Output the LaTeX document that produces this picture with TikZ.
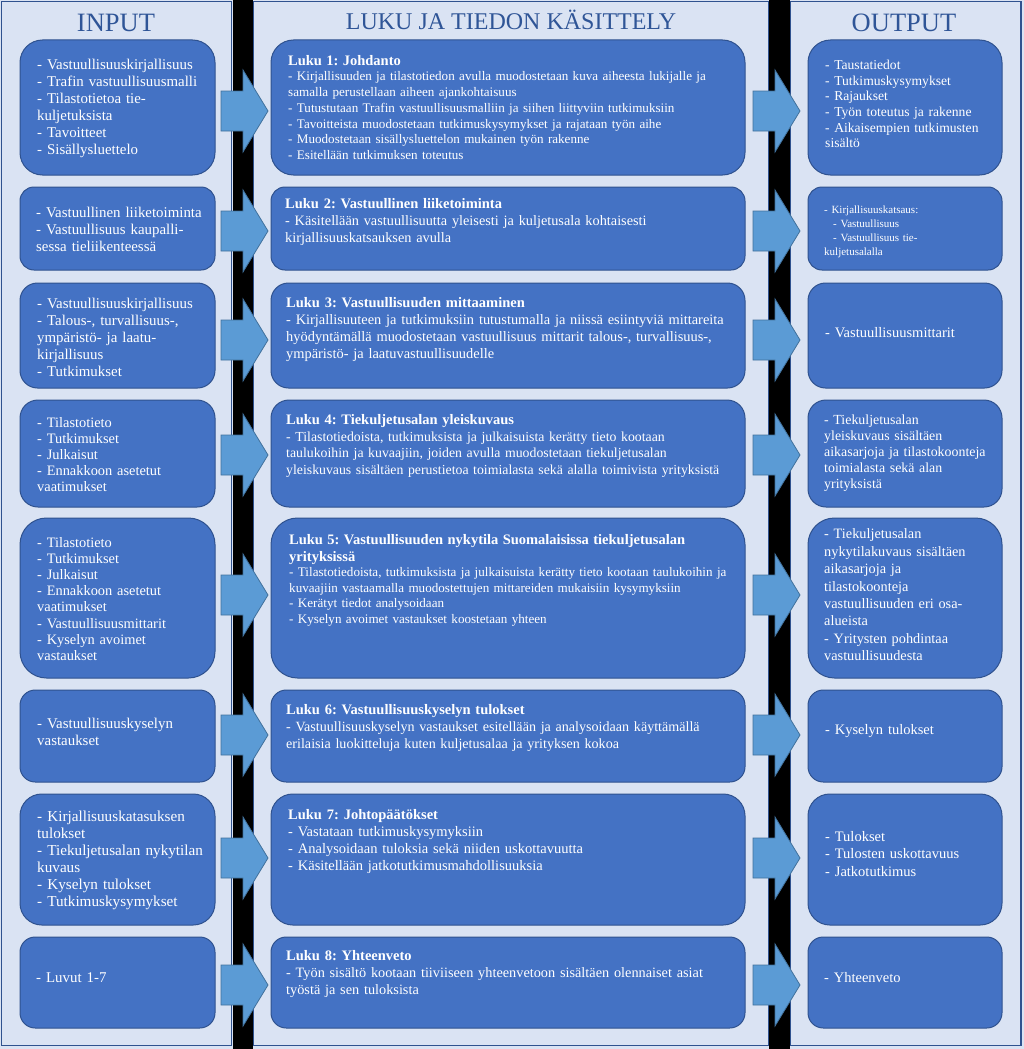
\documentclass[tikz,border=0pt]{standalone}
\usepackage{fontspec}
\setmainfont{Liberation Serif}
\frenchspacing
\definecolor{panelbg}{HTML}{DAE3F3}
\definecolor{panelline}{HTML}{2F528F}
\definecolor{boxfill}{HTML}{4472C4}
\definecolor{boxline}{HTML}{2F528F}
\definecolor{arrfill}{HTML}{5B9BD5}
\definecolor{arrline}{HTML}{41719C}
\definecolor{titlecol}{HTML}{2F5597}
\newcommand\myfs[2]{\fontsize{#1}{#2}\selectfont}
\newcommand\myhd[1]{{\fontsize{14.5}{17}\selectfont\bfseries #1\par}}
\tikzset{
  panel/.style={fill=panelbg, draw=panelline, line width=1.5pt},
  blackbar/.style={fill=black, draw=none},
  box/.style={fill=boxfill, draw=boxline, line width=1pt, inner sep=0pt},
  ltxt/.style={text=white, inner sep=0pt, align=left, text width=185pt, anchor=west},
  mtxt/.style={text=white, inner sep=0pt, align=left, text width=465pt, anchor=north west},
  ttl/.style={text=titlecol, inner sep=0pt, anchor=base},
  arr/.pic={\draw[fill=arrfill, draw=arrline, line width=0.8pt] (0,-20) -- (22,-20) -- (22,-41) -- (47,0) -- (22,41) -- (22,20) -- (0,20) -- cycle;},
}
\begin{document}
\begin{tikzpicture}[x=1pt,y=-1pt]
\useasboundingbox (0,0) rectangle (1024,1049);
\fill[panelbg] (0,0) rectangle (1024,1049);
% panels
\draw[panel] (1.5,1.5) rectangle (231.5,1045.5);
\draw[panel] (253,1.5) rectangle (769,1045.5);
\draw[panel] (790,1.5) rectangle (1021,1045.5);
% black bars
\fill[blackbar] (233,0) rectangle (253,1049);
\fill[blackbar] (769,0) rectangle (790,1049);
% titles
\node[ttl, font=\fontsize{26.5}{28}\selectfont] (tin) at (116,32) {INPUT};
\node[ttl, font=\fontsize{24}{26}\selectfont] (tmid) at (511,30) {LUKU JA TIEDON KÄSITTELY};
\node[ttl, font=\fontsize{26.5}{28}\selectfont] (tout) at (904,32) {OUTPUT};
% arrows
\foreach \yy in {111,231,340,455,595,735,858,985}{
  \pic at (221,\yy) {arr};
  \pic at (753,\yy) {arr};
}
% ---------- boxes ----------
% row 1
\node[box, minimum width=195pt, minimum height=135pt, rounded corners=22.5pt] (L1) at (117.5,107.5) {};
\node[box, minimum width=474pt, minimum height=135pt, rounded corners=22.5pt] (M1) at (508,107.5) {};
\node[box, minimum width=194pt, minimum height=135pt, rounded corners=22.5pt] (R1) at (905,107.5) {};
% row 2
\node[box, minimum width=195pt, minimum height=83pt, rounded corners=14pt] (L2) at (117.5,228.5) {};
\node[box, minimum width=474pt, minimum height=83pt, rounded corners=14pt] (M2) at (508,228.5) {};
\node[box, minimum width=194pt, minimum height=83pt, rounded corners=14pt] (R2) at (905,228.5) {};
% row 3
\node[box, minimum width=195pt, minimum height=105pt, rounded corners=17.5pt] (L3) at (117.5,335.5) {};
\node[box, minimum width=474pt, minimum height=105pt, rounded corners=17.5pt] (M3) at (508,335.5) {};
\node[box, minimum width=194pt, minimum height=105pt, rounded corners=17.5pt] (R3) at (905,335.5) {};
% row 4
\node[box, minimum width=195pt, minimum height=107pt, rounded corners=18pt] (L4) at (117.5,453.5) {};
\node[box, minimum width=474pt, minimum height=107pt, rounded corners=18pt] (M4) at (508,453.5) {};
\node[box, minimum width=194pt, minimum height=107pt, rounded corners=18pt] (R4) at (905,453.5) {};
% row 5
\node[box, minimum width=195pt, minimum height=160pt, rounded corners=26.5pt] (L5) at (117.5,598) {};
\node[box, minimum width=474pt, minimum height=160pt, rounded corners=26.5pt] (M5) at (508,598) {};
\node[box, minimum width=194pt, minimum height=160pt, rounded corners=26.5pt] (R5) at (905,598) {};
% row 6
\node[box, minimum width=195pt, minimum height=92pt, rounded corners=15.3pt] (L6) at (117.5,736) {};
\node[box, minimum width=474pt, minimum height=92pt, rounded corners=15.3pt] (M6) at (508,736) {};
\node[box, minimum width=194pt, minimum height=92pt, rounded corners=15.3pt] (R6) at (905,736) {};
% row 7
\node[box, minimum width=195pt, minimum height=131pt, rounded corners=21.8pt] (L7) at (117.5,859.5) {};
\node[box, minimum width=474pt, minimum height=131pt, rounded corners=21.8pt] (M7) at (508,859.5) {};
\node[box, minimum width=194pt, minimum height=131pt, rounded corners=21.8pt] (R7) at (905,859.5) {};
% row 8
\node[box, minimum width=195pt, minimum height=91pt, rounded corners=15.2pt] (L8) at (117.5,982.5) {};
\node[box, minimum width=474pt, minimum height=91pt, rounded corners=15.2pt] (M8) at (508,982.5) {};
\node[box, minimum width=194pt, minimum height=91pt, rounded corners=15.2pt] (R8) at (905,982.5) {};
% ---------- left texts ----------
\node[ltxt, font=\myfs{14.9}{17}] (lt1) at (37,108) {- Vastuullisuuskirjallisuus\\- Trafin vastuullisuusmalli\\- Tilastotietoa tie-\\kuljetuksista\\- Tavoitteet\\- Sisällysluettelo};
\node[ltxt, font=\myfs{14.9}{17}] (lt2) at (36,229.5) {- Vastuullinen liiketoiminta\\- Vastuullisuus kaupalli-\\sessa tieliikenteessä};
\node[ltxt, font=\myfs{14.9}{17}] (lt3) at (37,337) {- Vastuullisuuskirjallisuus\\- Talous-, turvallisuus-,\\ympäristö- ja laatu-\\kirjallisuus\\- Tutkimukset};
\node[ltxt, font=\myfs{14.4}{16}] (lt4) at (37,455) {- Tilastotieto\\- Tutkimukset\\- Julkaisut\\- Ennakkoon asetetut\\vaatimukset};
\node[ltxt, font=\myfs{14.4}{16.1}] (lt5) at (37,599) {- Tilastotieto\\- Tutkimukset\\- Julkaisut\\- Ennakkoon asetetut\\vaatimukset\\- Vastuullisuusmittarit\\- Kyselyn avoimet\\vastaukset};
\node[ltxt, font=\myfs{14.9}{17}] (lt6) at (37,732) {- Vastuullisuuskyselyn\\vastaukset};
\node[ltxt, font=\myfs{15.2}{17}] (lt7) at (37,860) {- Kirjallisuuskatasuksen\\tulokset\\- Tiekuljetusalan nykytilan\\kuvaus\\- Kyselyn tulokset\\- Tutkimuskysymykset};
\node[ltxt, font=\myfs{14.9}{17}] (lt8) at (36,977.5) {- Luvut 1-7};
% ---------- middle texts ----------
\node[mtxt, font=\myfs{13.1}{15.7}] (mt1) at (288,55) {\myhd{Luku 1: Johdanto}- Kirjallisuuden ja tilastotiedon avulla muodostetaan kuva aiheesta lukijalle ja\\samalla perustellaan aiheen ajankohtaisuus\\- Tutustutaan Trafin vastuullisuusmalliin ja siihen liittyviin tutkimuksiin\\- Tavoitteista muodostetaan tutkimuskysymykset ja rajataan työn aihe\\- Muodostetaan sisällysluettelon mukainen työn rakenne\\- Esitellään tutkimuksen toteutus};
\node[mtxt, font=\myfs{14.3}{17}] (mt2) at (285,198) {\myhd{Luku 2: Vastuullinen liiketoiminta}- Käsitellään vastuullisuutta yleisesti ja kuljetusala kohtaisesti\\kirjallisuuskatsauksen avulla};
\node[mtxt, font=\myfs{14.4}{17}] (mt3) at (286,297) {\myhd{Luku 3: Vastuullisuuden mittaaminen}- Kirjallisuuteen ja tutkimuksiin tutustumalla ja niissä esiintyviä mittareita\\hyödyntämällä muodostetaan vastuullisuus mittarit talous-, turvallisuus-,\\ympäristö- ja laatuvastuullisuudelle};
\node[mtxt, font=\myfs{13.8}{16.6}] (mt4) at (286,414.5) {\myhd{Luku 4: Tiekuljetusalan yleiskuvaus}- Tilastotiedoista, tutkimuksista ja julkaisuista kerätty tieto kootaan\\taulukoihin ja kuvaajiin, joiden avulla muodostetaan tiekuljetusalan\\yleiskuvaus sisältäen perustietoa toimialasta sekä alalla toimivista yrityksistä};
\node[mtxt, font=\myfs{13.1}{15.5}] (mt5) at (289,534) {\myhd{Luku 5: Vastuullisuuden nykytila Suomalaisissa tiekuljetusalan\\yrityksissä}- Tilastotiedoista, tutkimuksista ja julkaisuista kerätty tieto kootaan taulukoihin ja\\kuvaajiin vastaamalla muodostettujen mittareiden mukaisiin kysymyksiin\\- Kerätyt tiedot analysoidaan\\- Kyselyn avoimet vastaukset koostetaan yhteen};
\node[mtxt, font=\myfs{14.1}{17}] (mt6) at (286,704) {\myhd{Luku 6: Vastuullisuuskyselyn tulokset}- Vastuullisuuskyselyn vastaukset esitellään ja analysoidaan käyttämällä\\erilaisia luokitteluja kuten kuljetusalaa ja yrityksen kokoa};
\node[mtxt, font=\myfs{14.5}{17}] (mt7) at (288,809) {\myhd{Luku 7: Johtopäätökset}- Vastataan tutkimuskysymyksiin\\- Analysoidaan tuloksia sekä niiden uskottavuutta\\- Käsitellään jatkotutkimusmahdollisuuksia};
\node[mtxt, font=\myfs{14.3}{17}] (mt8) at (286,950) {\myhd{Luku 8: Yhteenveto}- Työn sisältö kootaan tiiviiseen yhteenvetoon sisältäen olennaiset asiat\\työstä ja sen tuloksista};
% ---------- right texts ----------
\node[ltxt, font=\myfs{13.6}{15.7}] (rt1) at (825,104) {- Taustatiedot\\- Tutkimuskysymykset\\- Rajaukset\\- Työn toteutus ja rakenne\\- Aikaisempien tutkimusten\\sisältö};
\node[ltxt, font=\myfs{11}{14}] (rt2) at (824,231.5) {- Kirjallisuuskatsaus:\\\hspace*{9pt}- Vastuullisuus\\\hspace*{9pt}- Vastuullisuus tie-\\kuljetusalalla};
\node[ltxt, font=\myfs{14.5}{17}] (rt3) at (825,332.5) {- Vastuullisuusmittarit};
\node[ltxt, font=\myfs{13.9}{16}] (rt4) at (824,453.5) {- Tiekuljetusalan\\yleiskuvaus sisältäen\\aikasarjoja ja tilastokoonteja\\toimialasta sekä alan\\yrityksistä};
\node[ltxt, font=\myfs{14.3}{17.4}] (rt5) at (824,595) {- Tiekuljetusalan\\nykytilakuvaus sisältäen\\aikasarjoja ja\\tilastokoonteja\\vastuullisuuden eri osa-\\alueista\\- Yritysten pohdintaa\\vastuullisuudesta};
\node[ltxt, font=\myfs{14.5}{17}] (rt6) at (825,731) {- Kyselyn tulokset};
\node[ltxt, font=\myfs{14.5}{17.5}] (rt7) at (825,854) {- Tulokset\\- Tulosten uskottavuus\\- Jatkotutkimus};
\node[ltxt, font=\myfs{14.5}{17}] (rt8) at (824,977.5) {- Yhteenveto};
\end{tikzpicture}
\end{document}
